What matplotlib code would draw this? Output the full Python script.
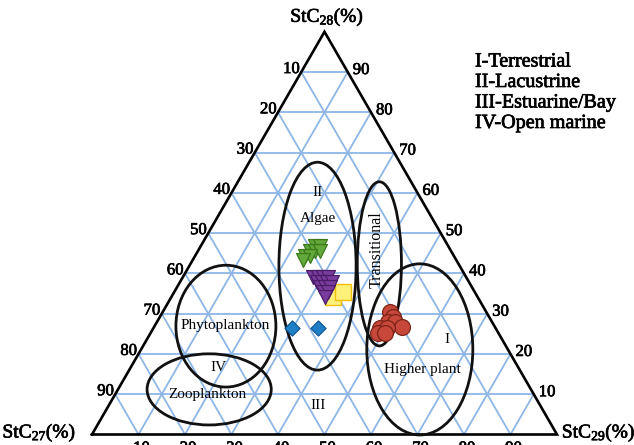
import numpy as np
import matplotlib
matplotlib.use("Agg")
import matplotlib.pyplot as plt
from matplotlib.patches import Ellipse
import matplotlib.patheffects as pe

plt.rcParams['font.family'] = ['Liberation Serif', 'DejaVu Serif']
plt.rcParams['mathtext.fontset'] = 'custom'
plt.rcParams['mathtext.rm'] = 'Liberation Serif'
plt.rcParams['mathtext.it'] = 'Liberation Serif'
plt.rcParams['mathtext.bf'] = 'Liberation Serif:bold'

# ---------------- data (StC27, StC28, StC29 in %) ----------------
green_c27 = [28.6, 27.6, 30.3, 29.2, 28.2, 32.0, 30.9, 33.0]
green_c28 = [46.8, 46.8, 45.6, 45.6, 45.6, 44.3, 44.3, 43.3]
green_c29 = [24.6, 25.6, 24.1, 25.2, 26.2, 23.7, 24.8, 23.7]

purple_c27 = [32.9, 31.9, 30.8, 29.7, 32.6, 31.6, 30.5, 29.5, 32.7, 31.6, 30.5, 32.6, 31.5, 32.9]
purple_c28 = [39.1, 39.1, 39.1, 39.1, 37.9, 37.9, 37.9, 37.9, 36.6, 36.6, 36.6, 35.4, 35.4, 34.1]
purple_c29 = [28.0, 29.0, 30.1, 31.2, 29.5, 30.5, 31.6, 32.6, 30.7, 31.8, 32.9, 32.0, 33.1, 33.0]

yellow_c27 = [31.2, 28.3]
yellow_c28 = [34.1, 35.4]
yellow_c29 = [34.7, 36.3]

blue_c27 = [43.8, 38.2]
blue_c28 = [26.4, 26.4]
blue_c29 = [29.8, 35.4]

red_c27 = [20.7, 20.7, 22.4, 20.9, 20.0, 24.9, 23.4, 25.9, 24.4]
red_c28 = [30.4, 29.2, 27.9, 27.9, 26.7, 26.4, 26.4, 25.2, 25.2]
red_c29 = [48.9, 50.1, 49.7, 51.2, 53.3, 48.7, 50.2, 48.9, 50.4]

tick_values = [10, 20, 30, 40, 50, 60, 70, 80, 90]
legend_lines = ["I-Terrestrial", "II-Lacustrine", "III-Estuarine/Bay", "IV-Open marine"]

H = np.sqrt(3) / 2


def tern(c27, c28, c29):
    c27 = np.asarray(c27, float); c28 = np.asarray(c28, float); c29 = np.asarray(c29, float)
    s = c27 + c28 + c29
    b = 100 * c28 / s
    c = 100 * c29 / s
    return c + b / 2, b * H


fig = plt.figure(figsize=(6.34, 4.45), dpi=100)
ax = fig.add_axes([0, 0, 1, 1])
ax.set_xlim(-19.78, 116.56)
ax.set_ylim(-2.26, 93.44)
ax.axis('off')

heavy = [pe.withStroke(linewidth=0.5, foreground='black')]

grid_col = '#8db6e6'
for v in tick_values:
    x1, y1 = tern(100 - v, v, 0)
    x2, y2 = tern(0, v, 100 - v)
    ax.plot([x1, x2], [y1, y2], color=grid_col, lw=1.3, zorder=1)
    x1, y1 = tern(100 - v, 0, v)
    x2, y2 = tern(0, 100 - v, v)
    ax.plot([x1, x2], [y1, y2], color=grid_col, lw=1.3, zorder=1)
    x1, y1 = tern(v, 0, 100 - v)
    x2, y2 = tern(v, 100 - v, 0)
    ax.plot([x1, x2], [y1, y2], color=grid_col, lw=1.3, zorder=1)

# triangle frame
tx, ty = tern([100, 0, 0, 100], [0, 100, 0, 0], [0, 0, 100, 0])
ax.plot(tx, ty, color='black', lw=1.9, zorder=3, solid_joinstyle='miter')

tick_fs = 12
px = 1 / 4.65
for v in tick_values:
    x, y = tern(v, 100 - v, 0)
    ax.text(x - 1.5 * px, y + 3 * px, str(v), ha='right', va='center', fontsize=tick_fs,
            path_effects=heavy)
    x, y = tern(0, v, 100 - v)
    ax.text(x + 5 * px, y + 2 * px, str(v), ha='left', va='center', fontsize=tick_fs,
            path_effects=heavy)
    x, y = tern(100 - v, 0, v)
    ax.text(x + 3 * px, y - 6 * px, str(v), ha='center', va='top', fontsize=tick_fs,
            path_effects=heavy)

ax.text(50.6, 89.7, r'StC$_{28}$(%)', ha='center', va='center', fontsize=14, path_effects=heavy)
ax.text(-11.3, 0.3, r'StC$_{27}$(%)', ha='center', va='center', fontsize=14, path_effects=heavy)
ax.text(109.0, 0.3, r'StC$_{29}$(%)', ha='center', va='center', fontsize=14, path_effects=heavy)

# ellipses (centre x, centre y, width, height in triangle coordinates)
ell_specs = [
    (48.5, 36.2, 16.6, 44.7),
    (61.8, 36.7, 9.5, 35.3),
    (70.5, 18.3, 22.8, 36.8),
    (28.8, 23.3, 21.5, 26.2),
    (25.2, 9.7, 26.7, 15.3),
]
for cx, cy, w, h in ell_specs:
    ax.add_patch(Ellipse((cx, cy), w, h, fill=False, ec='#111111', lw=2.0, zorder=4))

lab_fs = 11
ax.text(48.6, 52.0, 'II', ha='center', va='center', fontsize=lab_fs, zorder=6)
ax.text(48.6, 46.4, 'Algae', ha='center', va='center', fontsize=lab_fs, zorder=6)
ax.text(61.2, 39.8, 'Transitional', ha='center', va='center', fontsize=lab_fs + 0.5,
        rotation=90, zorder=6)
ax.text(76.3, 20.5, 'I', ha='center', va='center', fontsize=lab_fs, zorder=6)
ax.text(71.0, 13.9, 'Higher plant', ha='center', va='center', fontsize=lab_fs, zorder=6)
ax.text(28.6, 23.5, 'Phytoplankton', ha='center', va='center', fontsize=lab_fs, zorder=6)
ax.text(27.1, 14.3, 'IV', ha='center', va='center', fontsize=lab_fs, zorder=6)
ax.text(24.9, 8.7, 'Zooplankton', ha='center', va='center', fontsize=lab_fs, zorder=6)
ax.text(48.6, 6.2, 'III', ha='center', va='center', fontsize=lab_fs, zorder=6)

# data markers
x, y = tern(green_c27, green_c28, green_c29)
ax.scatter(x, y, marker='v', s=100, c='#63a83a', edgecolors='#3c7a1c', linewidths=0.9, zorder=7)
x, y = tern(purple_c27, purple_c28, purple_c29)
ax.scatter(x, y, marker='v', s=100, c='#7a3c9c', edgecolors='#4a1c6a', linewidths=0.9, zorder=7)
x, y = tern(yellow_c27, yellow_c28, yellow_c29)
ax.scatter(x, y, marker='s', s=125, c='#fff07a', edgecolors='#f0bf00', linewidths=1.0, zorder=6)
x, y = tern(blue_c27, blue_c28, blue_c29)
ax.scatter(x, y, marker='D', s=60, c='#1f7fc6', edgecolors='#0e5390', linewidths=0.8, zorder=7)
x, y = tern(red_c27, red_c28, red_c29)
ax.scatter(x, y, marker='o', s=130, c='#c7473a', edgecolors='#7c2419', linewidths=0.9, zorder=7)

# legend text
leg_y0 = (434.5 - 62) / 4.65
for i, t in enumerate(legend_lines):
    ax.text((475 - 92) / 4.65, leg_y0 - i * 20.5 / 4.65, t, ha='left', va='center',
            fontsize=14.5, path_effects=heavy)

fig.savefig('out.png', dpi=100)
